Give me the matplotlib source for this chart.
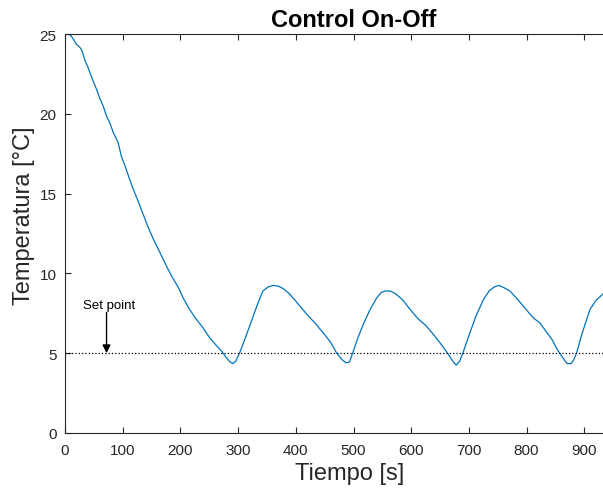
import numpy as np
import matplotlib.pyplot as plt

plt.rcParams['font.family'] = ['Liberation Sans', 'DejaVu Sans']

# temperature readings (s, degC)
tiempo = [0, 6, 10, 14, 20, 25, 29, 35, 40, 46, 50, 55, 61, 66, 72, 78, 84, 92,
          98, 104, 111, 118, 127, 136, 144, 153, 162, 170, 178, 186, 196, 205,
          215, 225, 239, 250, 262, 272, 280, 286, 291, 296, 303, 312, 324, 334,
          343, 352, 361, 370, 378, 388, 398, 407, 420, 433, 447, 460, 471, 480,
          487, 493, 499, 508, 518, 529, 540, 548, 555, 563, 572, 585, 598, 612,
          625, 638, 650, 664, 672, 678, 684, 690, 700, 712, 725, 735, 744, 752,
          761, 771, 785, 800, 812, 823, 835, 845, 852, 862, 870, 877, 882, 887,
          895, 903, 910, 920, 932, 945]
temp = [25.0, 25.0, 24.9, 24.7, 24.35, 24.2, 24.0, 23.3, 22.9, 22.3, 21.95,
        21.5, 20.9, 20.5, 19.85, 19.4, 18.8, 18.2, 17.3, 16.75, 16.0, 15.3,
        14.5, 13.65, 12.9, 12.15, 11.5, 10.9, 10.3, 9.75, 9.15, 8.45, 7.8,
        7.25, 6.6, 6.0, 5.5, 5.1, 4.7, 4.45, 4.35, 4.5, 5.05, 5.9, 7.1, 8.1,
        8.9, 9.15, 9.25, 9.2, 9.05, 8.75, 8.35, 7.95, 7.4, 6.9, 6.3, 5.7, 5.0,
        4.6, 4.4, 4.45, 5.05, 6.0, 6.9, 7.75, 8.45, 8.8, 8.9, 8.9, 8.75, 8.35,
        7.75, 7.15, 6.75, 6.2, 5.65, 4.95, 4.5, 4.25, 4.5, 5.05, 6.1, 7.3,
        8.35, 8.9, 9.15, 9.25, 9.1, 8.9, 8.35, 7.7, 7.2, 6.9, 6.3, 5.8, 5.3,
        4.75, 4.35, 4.35, 4.6, 5.05, 6.1, 7.0, 7.75, 8.3, 8.7, 9.0]

set_point = 5

x_ticks = list(range(0, 1100, 100))
x_labels = [str(v) for v in range(0, 1000, 100)] + ['']  # 1000 falls off the picture

gris = (0.15, 0.15, 0.15)

fig = plt.figure(figsize=(6.03, 4.89), dpi=100)
# the original axes run past the right edge of the picture (xlim up to 1000)
ax = fig.add_axes([65 / 603, 55 / 489, 577 / 603, 399 / 489])

ax.plot(tiempo, temp, color=(0, 0.447, 0.741), linewidth=0.9)
ax.axhline(set_point, color='black', linestyle=':', linewidth=0.9)
ax.annotate('', xy=(72, set_point), xytext=(72, 7.55),
            arrowprops=dict(arrowstyle='-|>', color='black', lw=1.0,
                            mutation_scale=12, shrinkA=0, shrinkB=0))
ax.text(76, 8.0, 'Set point', ha='center', va='center', fontsize=9.5)

ax.set_xlim(0, 1000)
ax.set_ylim(0, 25)
ax.set_xticks(x_ticks, x_labels)
ax.set_yticks(range(0, 30, 5))
ax.tick_params(direction='in', top=True, right=True, labelsize=11,
               colors=gris, length=4, width=0.8)
ax.tick_params(axis='x', pad=7)
ax.tick_params(axis='y', pad=6)
for side in ['left', 'bottom', 'top', 'right']:
    ax.spines[side].set_color(gris)
    ax.spines[side].set_linewidth(0.8)

ax.set_xlabel('Tiempo [s]', fontsize=17, color=gris)
ax.xaxis.set_label_coords((350 - 65) / 577, -29 / 399)
ax.set_ylabel('Temperatura [°C]', fontsize=17, color=gris)
ax.yaxis.set_label_coords(-30 / 577, (434 - 216) / 399)
ax.set_title('Control On-Off', fontsize=17, fontweight='bold', pad=6)

fig.savefig('out.png', dpi=100)
